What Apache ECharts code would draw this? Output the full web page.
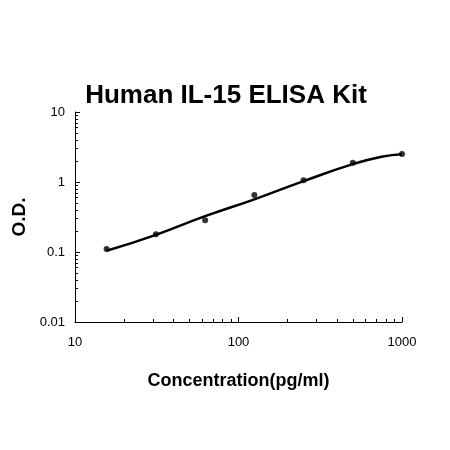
<!DOCTYPE html>
<html>
<head>
<meta charset="utf-8">
<script src="https://cdn.jsdelivr.net/npm/echarts@6/dist/echarts.min.js"></script>
<style>html,body{margin:0;background:#fff}#chart{width:450px;height:450px}</style>
</head>
<body>
<div id="chart"></div>
<script>
const concentration = [15.6, 31.25, 62.5, 125, 250, 500, 1000];
const od = [0.110, 0.179, 0.284, 0.65, 1.06, 1.89, 2.51];
const curveX = [15.6, 31.25, 62.5, 125, 250, 500, 750, 1000];
const curveY = [0.104, 0.176, 0.325, 0.566, 1.03, 1.80, 2.30, 2.50];

const chart = echarts.init(document.getElementById('chart'));
chart.setOption({
  animation: false,
  title: {
    text: 'Human IL-15 ELISA Kit',
    left: 221, top: 78, textAlign: 'center',
    textStyle: {fontFamily: 'Liberation Sans', fontWeight: 'bold', fontSize: 26, color: '#000'}
  },
  grid: {left: 75, right: 48, top: 112, bottom: 128},
  xAxis: {
    type: 'log', min: 10, max: 1000, logBase: 10,
    name: 'Concentration(pg/ml)', nameLocation: 'middle', nameGap: 50,
    nameTextStyle: {fontFamily: 'Liberation Sans', fontWeight: 'bold', fontSize: 18, color: '#000'},
    axisLine: {lineStyle: {color: '#000'}},
    axisTick: {inside: true, length: 5, lineStyle: {color: '#000'}},
    minorTick: {show: true, splitNumber: 9, length: 3, lineStyle: {color: '#000'}},
    axisLabel: {fontFamily: 'Liberation Sans', fontSize: 13, color: '#000', margin: 14,
      formatter: v => String(v)},
    splitLine: {show: false}
  },
  yAxis: {
    type: 'log', min: 0.01, max: 10, logBase: 10,
    name: 'O.D.', nameLocation: 'middle', nameGap: 44,
    nameTextStyle: {fontFamily: 'Liberation Sans', fontWeight: 'bold', fontSize: 19, color: '#000'},
    axisLine: {show: true, lineStyle: {color: '#000'}},
    axisTick: {show: true, inside: true, length: 5, lineStyle: {color: '#000'}},
    minorTick: {show: true, splitNumber: 9, length: 3, lineStyle: {color: '#000'}},
    axisLabel: {fontFamily: 'Liberation Sans', fontSize: 13, color: '#000', margin: 10},
    splitLine: {show: false}
  },
  series: [
    {
      type: 'line', smooth: true, showSymbol: false,
      data: curveX.map((x, i) => [x, curveY[i]]),
      lineStyle: {color: '#000', width: 2.5}
    },
    {
      type: 'scatter', symbolSize: 6,
      data: concentration.map((x, i) => [x, od[i]]),
      itemStyle: {color: '#000'}
    }
  ]
});
</script>
</body>
</html>
